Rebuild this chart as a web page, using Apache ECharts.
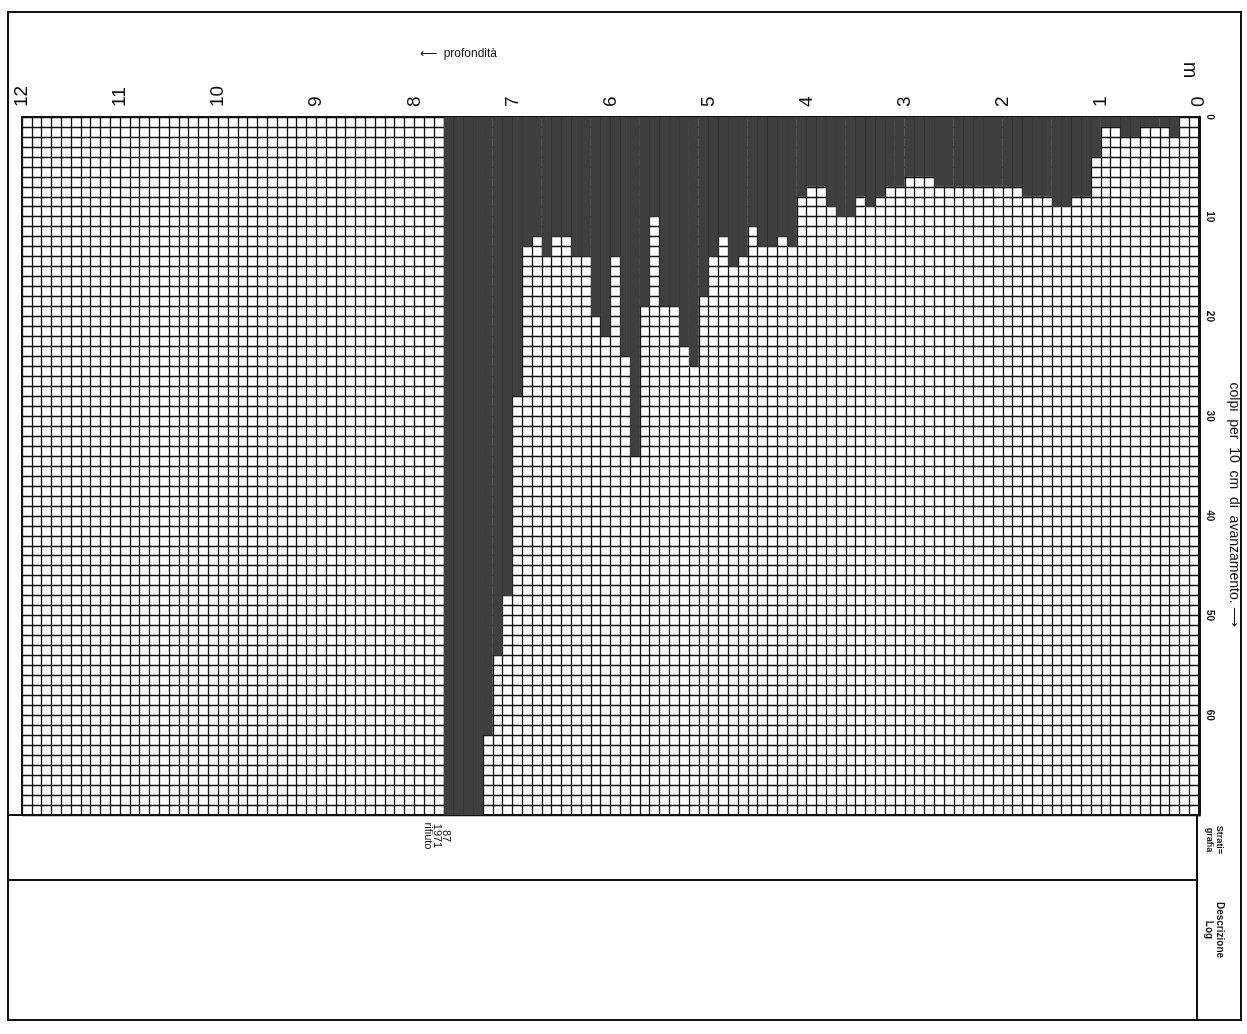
<!DOCTYPE html>
<html>
<head>
<meta charset="utf-8">
<script src="https://cdn.jsdelivr.net/npm/echarts@6/dist/echarts.min.js"></script>
<style>
  html, body { margin: 0; padding: 0; background: #fff; }
  #chart { width: 1247px; height: 1034px; }
</style>
</head>
<body>
<div id="chart"></div>
<script>
// colpi per 10 cm di avanzamento, one value per 10 cm of depth from 0.0 m
const blows = [
  0, 0, 2, 1, 1, 1, 2, 2, 1, 1,
  4, 8, 8, 9, 9, 8, 8, 8, 7, 7,
  7, 7, 7, 7, 7, 7, 7, 6, 6, 6,
  7, 7, 8, 9, 8, 10, 10, 9, 7, 7,
  8, 13, 12, 13, 13, 11, 14, 15, 12, 14,
  18, 25, 23, 19, 19, 10, 19, 34, 24, 14,
  22, 20, 14, 14, 12, 12, 14, 12, 13, 28,
  48, 54, 62, 70, 70, 70, 70
]
const depthTicks = [0, 1, 2, 3, 4, 5, 6, 7, 8, 9, 10, 11, 12]
const blowTicks = [0, 10, 20, 30, 40, 50, 60, 70]
const refusalNote = '87\n1971\nrifiuto'

// 10 cm steps over the 12 m sheet
const categories = []
for (let i = 0; i < 120; i++) categories.push((i / 10).toFixed(1))
const barData = categories.map((c, i) => (i < blows.length ? blows[i] : null))

const ink = '#111'
const font = 'Liberation Sans, Arial, sans-serif'

const option = {
  animation: false,
  backgroundColor: '#fff',
  grid: {
    left: 22,
    top: 117,
    width: 1177,
    height: 698,
    show: true,
    borderColor: ink,
    borderWidth: 2
  },
  xAxis: [
    {
      type: 'category',
      data: categories,
      inverse: true,
      position: 'top',
      boundaryGap: true,
      axisLine: { show: false },
      axisTick: { show: false },
      axisLabel: { show: false },
      splitLine: { show: true, interval: 0, lineStyle: { color: ink, width: 1.3 } }
    },
    {
      type: 'value',
      min: depthTicks[0],
      max: depthTicks[depthTicks.length - 1],
      interval: 1,
      inverse: true,
      position: 'top',
      axisLine: { show: false },
      axisTick: { show: false },
      splitLine: { show: false },
      axisLabel: {
        margin: 10,
        rotate: -90,
        fontSize: 19,
        fontFamily: font,
        color: ink,
        formatter: (v) => (depthTicks.includes(v) ? String(v) : '')
      }
    }
  ],
  yAxis: {
    type: 'value',
    inverse: true,
    position: 'right',
    min: blowTicks[0],
    max: blowTicks[blowTicks.length - 1],
    interval: 10,
    axisLine: { show: true, lineStyle: { color: ink, width: 3 } },
    axisTick: { show: false },
    axisLabel: {
      margin: 6,
      rotate: -90,
      fontSize: 10,
      fontWeight: 'bold',
      fontFamily: font,
      color: ink,
      formatter: (v) => (blowTicks.includes(v) && v < 70 ? String(v) : '')
    },
    splitLine: { show: true, lineStyle: { color: ink, width: 1.3 } },
    minorSplitLine: { show: true, lineStyle: { color: ink, width: 1.3 } },
    minorTick: { show: false, splitNumber: 10 }
  },
  series: [
    {
      type: 'bar',
      xAxisIndex: 0,
      yAxisIndex: 0,
      data: barData,
      barCategoryGap: '0%',
      barGap: '0%',
      itemStyle: { color: '#3f3f3f' },
      z: 5
    }
  ],
  graphic: [
    // outer sheet frame and the two lower boxes
    { type: 'rect', shape: { x: 8, y: 12, width: 1233, height: 1008 }, style: { fill: 'none', stroke: ink, lineWidth: 2 } },
    { type: 'line', shape: { x1: 8, y1: 880, x2: 1197, y2: 880 }, style: { stroke: ink, lineWidth: 2 } },
    { type: 'line', shape: { x1: 1197, y1: 815, x2: 1197, y2: 1020 }, style: { stroke: ink, lineWidth: 2 } },
    { type: 'line', shape: { x1: 8, y1: 815, x2: 22, y2: 815 }, style: { stroke: ink, lineWidth: 2 } },
    {
      type: 'text', x: 420, y: 54,
      style: { text: '⟵  profondità', font: '12px ' + font, fill: ink, textAlign: 'left', textVerticalAlign: 'middle' }
    },
    {
      type: 'text', x: 1190, y: 70, rotation: -Math.PI / 2,
      style: { text: 'm', font: '20px ' + font, fill: ink, textAlign: 'center', textVerticalAlign: 'middle' }
    },
    {
      type: 'text', x: 1234, y: 505, rotation: -Math.PI / 2,
      style: { text: 'colpi  per  10  cm  di  avanzamento. ⟶', font: '14px ' + font, fill: ink, textAlign: 'center', textVerticalAlign: 'middle' }
    },
    {
      type: 'text', x: 1214, y: 840, rotation: -Math.PI / 2,
      style: { text: 'Strati=\ngrafia', font: 'bold 9px ' + font, fill: ink, textAlign: 'center', textVerticalAlign: 'middle', lineHeight: 10 }
    },
    {
      type: 'text', x: 1214, y: 930, rotation: -Math.PI / 2,
      style: { text: 'Descrizione\nLog', font: 'bold 10px ' + font, fill: ink, textAlign: 'center', textVerticalAlign: 'middle', lineHeight: 11 }
    },
    {
      type: 'text', x: 437, y: 836, rotation: -Math.PI / 2,
      style: { text: refusalNote, font: '11px ' + font, fill: ink, textAlign: 'center', textVerticalAlign: 'middle', lineHeight: 9 }
    }
  ]
}

const myChart = echarts.init(document.getElementById('chart'), null, { renderer: 'canvas' })
myChart.setOption(option)
</script>
</body>
</html>
